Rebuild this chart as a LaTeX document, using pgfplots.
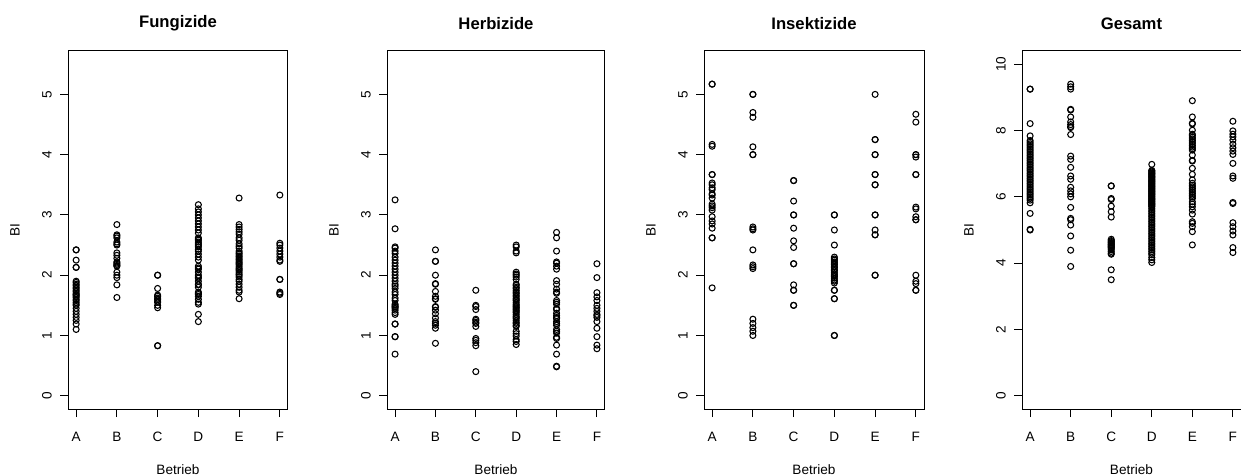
\documentclass[border=0pt]{standalone}
\usepackage{fontspec}
\setmainfont{Liberation Sans}
\usepackage{pgfplots}
\pgfplotsset{compat=1.18}

% one R-style panel: 1 px of the reference = 0.75pt
\pgfplotsset{
  rpanel/.style={
    scale only axis, width=165pt, height=268.5pt, anchor=south west,
    xmin=0.8, xmax=6.2,
    xtick={1,...,6}, xticklabels={A,B,C,D,E,F},
    tick pos=left, tick align=outside, major tick length=6pt,
    every tick/.style={black, line width=0.75pt},
    axis line style={line width=0.75pt},
    /pgf/number format/assume math mode=true,
    ticklabel style={font=\fontsize{10.2}{12}\selectfont},
    yticklabel style={rotate=90, anchor=south, inner sep=0pt},
    xticklabel style={anchor=north, inner sep=0pt},
    yticklabel shift=6pt, xticklabel shift=11.3pt,
    every axis title/.style={at={(axis description cs:0.5,1)}, anchor=center,
      yshift=20.5pt, font=\bfseries\fontsize{12.5}{15}\selectfont},
    every axis x label/.style={at={(axis description cs:0.5,0)}, anchor=center,
      yshift=-45.5pt, font=\fontsize{10.2}{12}\selectfont},
    every axis y label/.style={at={(axis description cs:0,0.5)}, anchor=center,
      xshift=-39.75pt, rotate=90, font=\fontsize{10.2}{12}\selectfont},
    xlabel={Betrieb}, ylabel={BI},
    clip=false,
  },
  small/.style={ymin=-0.22, ymax=5.72, ytick={0,...,5}},
  pts/.style={only marks, mark=o, black, mark size=2.25pt, mark options={line width=0.8pt}},
}

\begin{document}
\begin{tikzpicture}
\path[use as bounding box] (0,0) rectangle (930.75pt,356.25pt);

% Fungizide
\begin{axis}[rpanel, small, at={(51pt,49.5pt)}, title={Fungizide}]
\addplot[pts] coordinates {
(1,2.42)(1,2.42)(1,2.25)(1,2.13)(1,2.13)(1,1.90)(1,1.88)(1,1.85)(1,1.83)(1,1.80)(1,1.78)(1,1.75)(1,1.73)(1,1.70)(1,1.68)(1,1.67)(1,1.65)(1,1.63)(1,1.60)(1,1.58)(1,1.55)(1,1.52)(1,1.50)(1,1.45)(1,1.40)(1,1.35)(1,1.30)(1,1.25)(1,1.19)(1,1.10)
(2,2.84)(2,2.67)(2,2.65)(2,2.62)(2,2.55)(2,2.52)(2,2.50)(2,2.37)(2,2.33)(2,2.28)(2,2.22)(2,2.20)(2,2.18)(2,2.16)(2,2.15)(2,2.05)(2,2.00)(2,1.96)(2,1.84)(2,1.63)
(3,2.00)(3,2.00)(3,1.78)(3,1.67)(3,1.65)(3,1.62)(3,1.60)(3,1.57)(3,1.55)(3,1.50)(3,1.46)(3,0.83)(3,0.83)
(4,3.17)(4,3.10)(4,3.05)(4,3.00)(4,2.95)(4,2.90)(4,2.85)(4,2.80)(4,2.75)(4,2.70)(4,2.62)(4,2.60)(4,2.58)(4,2.55)(4,2.52)(4,2.50)(4,2.47)(4,2.43)(4,2.40)(4,2.35)(4,2.30)(4,2.25)(4,2.15)(4,2.12)(4,2.10)(4,2.05)(4,2.00)(4,1.97)(4,1.95)(4,1.90)(4,1.85)(4,1.84)(4,1.80)(4,1.72)(4,1.70)(4,1.68)(4,1.65)(4,1.60)(4,1.55)(4,1.52)(4,1.35)(4,1.23)
(5,3.28)(5,2.84)(5,2.80)(5,2.76)(5,2.72)(5,2.68)(5,2.62)(5,2.58)(5,2.52)(5,2.48)(5,2.45)(5,2.40)(5,2.37)(5,2.35)(5,2.32)(5,2.30)(5,2.27)(5,2.25)(5,2.22)(5,2.20)(5,2.18)(5,2.15)(5,2.12)(5,2.10)(5,2.08)(5,2.05)(5,2.02)(5,2.00)(5,1.97)(5,1.93)(5,1.90)(5,1.85)(5,1.80)(5,1.75)(5,1.72)(5,1.61)
(6,3.33)(6,2.53)(6,2.50)(6,2.45)(6,2.40)(6,2.35)(6,2.30)(6,2.25)(6,2.23)(6,1.93)(6,1.93)(6,1.72)(6,1.70)(6,1.68)
};
\end{axis}

% Herbizide
\begin{axis}[rpanel, small, at={(290.25pt,49.5pt)}, width=163.5pt, title={Herbizide}]
\addplot[pts] coordinates {
(1,3.25)(1,2.77)(1,2.47)(1,2.45)(1,2.40)(1,2.36)(1,2.30)(1,2.25)(1,2.20)(1,2.15)(1,2.10)(1,2.05)(1,2.00)(1,1.95)(1,1.90)(1,1.85)(1,1.82)(1,1.78)(1,1.72)(1,1.68)(1,1.62)(1,1.58)(1,1.52)(1,1.50)(1,1.48)(1,1.47)(1,1.45)(1,1.42)(1,1.38)(1,1.35)(1,1.19)(1,1.19)(1,0.98)(1,0.98)(1,0.69)
(2,2.42)(2,2.23)(2,2.23)(2,2.00)(2,1.86)(2,1.85)(2,1.73)(2,1.65)(2,1.61)(2,1.60)(2,1.48)(2,1.47)(2,1.42)(2,1.36)(2,1.29)(2,1.23)(2,1.20)(2,1.17)(2,1.12)(2,0.87)
(3,1.75)(3,1.50)(3,1.48)(3,1.43)(3,1.27)(3,1.25)(3,1.22)(3,1.20)(3,1.15)(3,0.95)(3,0.92)(3,0.88)(3,0.83)(3,0.40)
(4,2.50)(4,2.47)(4,2.40)(4,2.37)(4,2.05)(4,2.02)(4,2.00)(4,1.97)(4,1.93)(4,1.85)(4,1.83)(4,1.80)(4,1.78)(4,1.75)(4,1.72)(4,1.70)(4,1.67)(4,1.65)(4,1.62)(4,1.60)(4,1.58)(4,1.55)(4,1.52)(4,1.50)(4,1.48)(4,1.46)(4,1.44)(4,1.42)(4,1.40)(4,1.38)(4,1.35)(4,1.32)(4,1.30)(4,1.28)(4,1.25)(4,1.22)(4,1.20)(4,1.17)(4,1.15)(4,1.07)(4,1.03)(4,0.99)(4,0.93)(4,0.90)(4,0.85)
(5,2.71)(5,2.62)(5,2.40)(5,2.22)(5,2.20)(5,2.15)(5,2.10)(5,1.91)(5,1.85)(5,1.77)(5,1.72)(5,1.70)(5,1.58)(5,1.55)(5,1.52)(5,1.45)(5,1.43)(5,1.37)(5,1.33)(5,1.30)(5,1.28)(5,1.23)(5,1.20)(5,1.17)(5,1.10)(5,1.07)(5,1.04)(5,0.97)(5,0.95)(5,0.84)(5,0.69)(5,0.49)(5,0.48)
(6,2.19)(6,1.96)(6,1.71)(6,1.64)(6,1.58)(6,1.50)(6,1.45)(6,1.40)(6,1.35)(6,1.33)(6,1.30)(6,1.23)(6,1.12)(6,0.98)(6,0.84)(6,0.78)
};
\end{axis}

% Insektizide
\begin{axis}[rpanel, small, at={(528pt,49.5pt)}, title={Insektizide}]
\addplot[pts] coordinates {
(1,5.17)(1,5.17)(1,4.17)(1,4.14)(1,3.67)(1,3.67)(1,3.53)(1,3.50)(1,3.45)(1,3.42)(1,3.35)(1,3.33)(1,3.28)(1,3.18)(1,3.15)(1,3.12)(1,3.08)(1,2.97)(1,2.90)(1,2.85)(1,2.78)(1,2.62)(1,2.62)(1,1.79)
(2,5.00)(2,5.00)(2,4.70)(2,4.62)(2,4.13)(2,4.00)(2,4.00)(2,2.80)(2,2.77)(2,2.75)(2,2.42)(2,2.17)(2,2.14)(2,2.11)(2,1.27)(2,1.20)(2,1.13)(2,1.07)(2,1.00)
(3,3.57)(3,3.57)(3,3.23)(3,3.00)(3,3.00)(3,2.78)(3,2.57)(3,2.46)(3,2.19)(3,2.19)(3,1.84)(3,1.75)(3,1.75)(3,1.50)(3,1.50)
(4,3.00)(4,3.00)(4,2.75)(4,2.50)(4,2.30)(4,2.27)(4,2.25)(4,2.22)(4,2.20)(4,2.18)(4,2.15)(4,2.13)(4,2.10)(4,2.08)(4,2.05)(4,2.02)(4,2.00)(4,1.98)(4,1.95)(4,1.92)(4,1.90)(4,1.87)(4,1.75)(4,1.75)(4,1.61)(4,1.61)(4,1.00)(4,1.00)
(5,5.00)(5,4.25)(5,4.25)(5,4.00)(5,4.00)(5,3.67)(5,3.67)(5,3.50)(5,3.50)(5,3.00)(5,3.00)(5,2.75)(5,2.67)(5,2.67)(5,2.00)(5,2.00)
(6,4.67)(6,4.54)(6,4.00)(6,4.00)(6,3.96)(6,3.67)(6,3.67)(6,3.13)(6,3.10)(6,2.97)(6,2.92)(6,2.92)(6,2.00)(6,1.90)(6,1.86)(6,1.75)(6,1.75)
};
\end{axis}

% Gesamt
\begin{axis}[rpanel, at={(766.5pt,49.5pt)}, width=164.25pt, title={Gesamt},
  ymin=-0.4, ymax=10.4, ytick={0,2,...,10}]
\addplot[pts] coordinates {
(1,9.25)(1,9.25)(1,8.21)(1,7.84)(1,7.70)(1,7.65)(1,7.60)(1,7.55)(1,7.50)(1,7.45)(1,7.40)(1,7.35)(1,7.30)(1,7.25)(1,7.20)(1,7.15)(1,7.10)(1,7.05)(1,7.00)(1,6.95)(1,6.90)(1,6.85)(1,6.80)(1,6.75)(1,6.70)(1,6.65)(1,6.60)(1,6.55)(1,6.50)(1,6.45)(1,6.40)(1,6.35)(1,6.30)(1,6.25)(1,6.20)(1,6.15)(1,6.10)(1,6.05)(1,6.00)(1,5.95)(1,5.90)(1,5.82)(1,5.50)(1,5.02)(1,5.00)
(2,9.40)(2,9.32)(2,9.25)(2,8.64)(2,8.62)(2,8.41)(2,8.26)(2,8.18)(2,8.12)(2,8.09)(2,7.88)(2,7.23)(2,7.13)(2,6.89)(2,6.63)(2,6.53)(2,6.29)(2,6.18)(2,6.09)(2,6.00)(2,5.68)(2,5.35)(2,5.31)(2,5.15)(2,4.82)(2,4.39)(2,3.90)
(3,6.33)(3,6.33)(3,5.95)(3,5.92)(3,5.72)(3,5.55)(3,5.39)(3,4.72)(3,4.68)(3,4.65)(3,4.62)(3,4.60)(3,4.57)(3,4.55)(3,4.52)(3,4.50)(3,4.47)(3,4.45)(3,4.40)(3,4.35)(3,4.30)(3,4.27)(3,3.80)(3,3.50)
(4,6.98)(4,6.80)(4,6.78)(4,6.75)(4,6.72)(4,6.70)(4,6.68)(4,6.65)(4,6.62)(4,6.60)(4,6.58)(4,6.55)(4,6.52)(4,6.50)(4,6.47)(4,6.45)(4,6.42)(4,6.40)(4,6.37)(4,6.35)(4,6.32)(4,6.30)(4,6.27)(4,6.25)(4,6.22)(4,6.20)(4,6.17)(4,6.15)(4,6.12)(4,6.10)(4,6.07)(4,6.05)(4,6.02)(4,6.00)(4,5.97)(4,5.95)(4,5.92)(4,5.90)(4,5.87)(4,5.85)(4,5.82)(4,5.80)(4,5.77)(4,5.75)(4,5.72)(4,5.70)(4,5.65)(4,5.60)(4,5.55)(4,5.50)(4,5.45)(4,5.40)(4,5.35)(4,5.30)(4,5.25)(4,5.20)(4,5.15)(4,5.10)(4,5.05)(4,5.00)(4,4.95)(4,4.90)(4,4.85)(4,4.80)(4,4.75)(4,4.70)(4,4.65)(4,4.60)(4,4.55)(4,4.50)(4,4.45)(4,4.40)(4,4.35)(4,4.30)(4,4.25)(4,4.17)(4,4.10)(4,4.02)
(5,8.90)(5,8.41)(5,8.22)(5,8.20)(5,8.01)(5,7.89)(5,7.85)(5,7.80)(5,7.75)(5,7.70)(5,7.65)(5,7.60)(5,7.55)(5,7.50)(5,7.45)(5,7.41)(5,7.26)(5,7.10)(5,7.08)(5,6.86)(5,6.68)(5,6.51)(5,6.41)(5,6.35)(5,6.30)(5,6.25)(5,6.20)(5,6.15)(5,6.10)(5,6.05)(5,6.00)(5,5.95)(5,5.85)(5,5.78)(5,5.70)(5,5.60)(5,5.48)(5,5.25)(5,5.20)(5,5.10)(5,4.95)(5,4.55)
(6,8.28)(6,7.99)(6,7.89)(6,7.81)(6,7.71)(6,7.59)(6,7.48)(6,7.38)(6,7.28)(6,7.01)(6,6.63)(6,6.56)(6,5.83)(6,5.80)(6,5.22)(6,5.10)(6,4.97)(6,4.85)(6,4.47)(6,4.32)
};
\end{axis}
\end{tikzpicture}
\end{document}
